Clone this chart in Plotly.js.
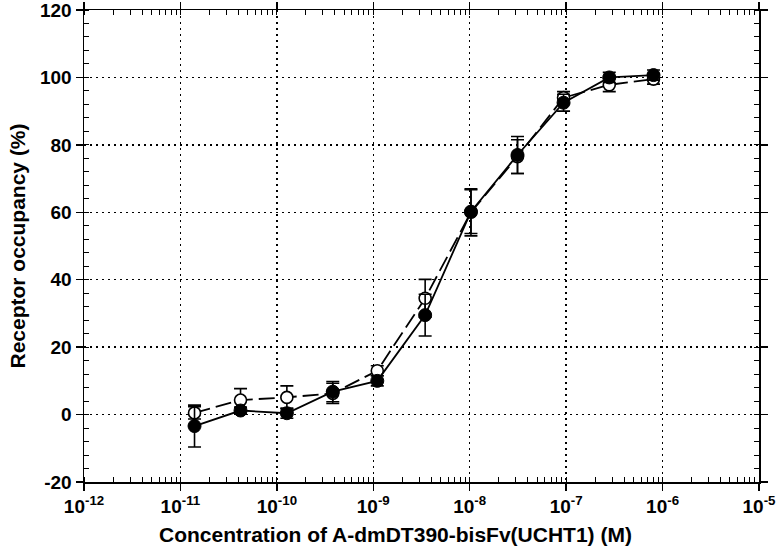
<!DOCTYPE html>
<html>
<head>
<meta charset="utf-8">
<script src="https://cdn.plot.ly/plotly-3.0.1.min.js"></script>
<style>html,body{margin:0;padding:0;background:#fff;}#chart{width:776px;height:556px;}</style>
</head>
<body>
<div id="chart"></div>
<script>
// Concentration (M)
const concentration = [1.4e-11, 4.2e-11, 1.27e-10, 3.8e-10, 1.1e-9, 3.45e-9, 1.03e-8, 3.13e-8, 9.4e-8, 2.8e-7, 8.05e-7];
// Filled circles (solid line)
const filledOccupancy = [-3.4, 1.2, 0.4, 6.8, 10.0, 29.5, 60.2, 77.0, 92.5, 100.0, 100.7];
const filledError = [6.2, 1.0, 1.5, 3.0, 1.5, 6.2, 6.5, 5.5, 2.5, 1.5, 1.5];
// Open circles (dashed line)
const openOccupancy = [0.5, 4.3, 5.1, 6.3, 13.0, 34.5, 60.0, 76.5, 94.0, 97.8, 99.5];
const openError = [1.8, 3.4, 3.4, 3.0, 1.5, 5.6, 7.0, 5.0, 1.8, 2.0, 1.5];
// Axis ticks and titles
const xTickVals = [1e-12, 1e-11, 1e-10, 1e-9, 1e-8, 1e-7, 1e-6, 1e-5];
const xTickText = ['10<sup>-12</sup>', '10<sup>-11</sup>', '10<sup>-10</sup>', '10<sup>-9</sup>', '10<sup>-8</sup>', '10<sup>-7</sup>', '10<sup>-6</sup>', '10<sup>-5</sup>'];
const yTickVals = [-20, 0, 20, 40, 60, 80, 100, 120];
const yTickText = ['-20', '0', '20', '40', '60', '80', '100', '120'];
const xTitle = 'Concentration of A-dmDT390-bisFv(UCHT1) (M)';
const yTitle = 'Receptor occupancy (%)';

const openTrace = {
  x: concentration, y: openOccupancy,
  type: 'scatter', mode: 'lines+markers',
  line: {color: '#000', width: 1.8, dash: '16px,6px'},
  marker: {symbol: 'circle', size: 12, color: '#fff', line: {color: '#000', width: 1.6}},
  error_y: {type: 'data', array: openError, visible: true, color: '#000', thickness: 1.6, width: 6.5},
  showlegend: false
};
const filledTrace = {
  x: concentration, y: filledOccupancy,
  type: 'scatter', mode: 'lines+markers',
  line: {color: '#000', width: 1.8},
  marker: {symbol: 'circle', size: 13, color: '#000', line: {color: '#000', width: 1}},
  error_y: {type: 'data', array: filledError, visible: true, color: '#000', thickness: 1.6, width: 6.5},
  showlegend: false
};

const fontFam = 'Liberation Sans, Arial, Helvetica, sans-serif';
const layout = {
  width: 776, height: 556,
  margin: {l: 84, r: 17, t: 10, b: 74},
  paper_bgcolor: '#fff', plot_bgcolor: '#fff',
  font: {family: fontFam, color: '#000', size: 19, weight: 700},
  xaxis: {
    type: 'log', range: [-12, -5],
    tickmode: 'array', tickvals: xTickVals, ticktext: xTickText,
    ticks: 'outside', ticklen: 7, tickwidth: 1.5, tickcolor: '#000',
    showline: true, linecolor: '#000', linewidth: 1.5, mirror: 'ticks',
    showgrid: true, gridcolor: '#000', gridwidth: 1.5, griddash: '2px,4px',
    zeroline: false, ticklabeloverflow: 'allow', automargin: false,
    tickfont: {family: fontFam, size: 19, weight: 700},
    minor: {dtick: 'D1', ticks: 'inside', ticklen: 5, tickwidth: 1, tickcolor: '#000', showgrid: false}
  },
  yaxis: {
    range: [-20, 120], tickmode: 'array', tickvals: yTickVals, ticktext: yTickText,
    ticks: 'outside', ticklen: 7, tickwidth: 1.5, tickcolor: '#000',
    showline: true, linecolor: '#000', linewidth: 1.5, mirror: 'ticks',
    showgrid: true, gridcolor: '#000', gridwidth: 1.5, griddash: '2px,4px',
    zeroline: false, ticklabeloverflow: 'allow', automargin: false,
    tickfont: {family: fontFam, size: 19, weight: 700},
    minor: {tickmode: 'linear', tick0: 0, dtick: 4, ticks: 'inside', ticklen: 5, tickwidth: 1, tickcolor: '#000', showgrid: false},
    title: {text: yTitle, font: {family: fontFam, size: 21, weight: 700}, standoff: 8}
  },
  annotations: [{
    text: xTitle, xref: 'paper', yref: 'paper', x: 0.462, y: -0.112,
    xanchor: 'center', yanchor: 'middle', showarrow: false,
    font: {family: fontFam, size: 21, weight: 700, color: '#000'}
  }]
};

Plotly.newPlot('chart', [openTrace, filledTrace], layout, {staticPlot: true, displayModeBar: false});
</script>
</body>
</html>
